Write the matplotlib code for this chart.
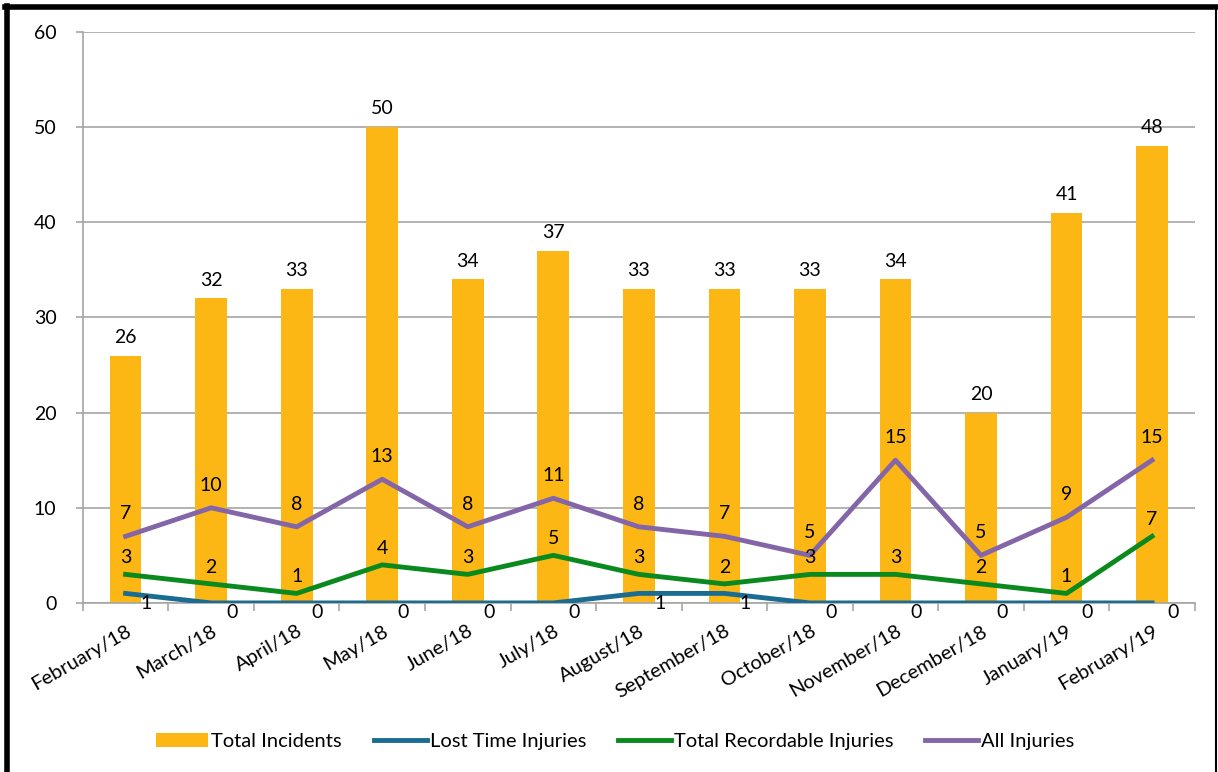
import numpy as np
import matplotlib
matplotlib.use('Agg')
import matplotlib.pyplot as plt
from matplotlib.lines import Line2D

plt.rcParams['font.family'] = ['Lato', 'DejaVu Sans']

months = ['February/18', 'March/18', 'April/18', 'May/18', 'June/18', 'July/18',
          'August/18', 'September/18', 'October/18', 'November/18', 'December/18',
          'January/19', 'February/19']
total_incidents = [26, 32, 33, 50, 34, 37, 33, 33, 33, 34, 20, 41, 48]
lost_time = [1, 0, 0, 0, 0, 0, 1, 1, 0, 0, 0, 0, 0]
total_recordable = [3, 2, 1, 4, 3, 5, 3, 2, 3, 3, 2, 1, 7]
all_injuries = [7, 10, 8, 13, 8, 11, 8, 7, 5, 15, 5, 9, 15]

c_bar = '#FDB714'
c_lost = '#1B6C93'
c_trir = '#0A8A1E'
c_all = '#8466A8'
c_grid = '#A6A6A6'

fig = plt.figure(figsize=(12.18, 7.72), dpi=100)
ax = fig.add_axes([0.068, 0.219, 0.913, 0.7395])

x = np.arange(len(months))
b = ax.bar(x, total_incidents, width=0.37, color=c_bar, label='Total Incidents', zorder=2)
l1, = ax.plot(x, lost_time, color=c_lost, lw=3.5, label='Lost Time Injuries', zorder=3)
l2, = ax.plot(x, total_recordable, color=c_trir, lw=3.5, label='Total Recordable Injuries', zorder=3)
l3, = ax.plot(x, all_injuries, color=c_all, lw=3.5, label='All Injuries', zorder=3)

fs = 14.5
fs_lab = 14
# data labels
for i in range(len(months)):
    ax.annotate(str(total_incidents[i]), (x[i], total_incidents[i]), xytext=(0, 7),
                textcoords='offset points', ha='center', va='bottom', fontsize=fs_lab)
    ax.annotate(str(all_injuries[i]), (x[i], all_injuries[i]), xytext=(0, 10),
                textcoords='offset points', ha='center', va='bottom', fontsize=fs_lab)
    ax.annotate(str(total_recordable[i]), (x[i], total_recordable[i]), xytext=(0, 6),
                textcoords='offset points', ha='center', va='bottom', fontsize=fs_lab)
    ax.annotate(str(lost_time[i]), (x[i], lost_time[i]), xytext=(15, -1),
                textcoords='offset points', ha='center', va='top', fontsize=fs_lab)

ax.set_xlim(-0.5, len(months) - 0.5)
ax.set_ylim(0, 60)
ax.set_yticks(range(0, 61, 10))
ax.yaxis.grid(True, color=c_grid, lw=1.2, zorder=0)
ax.set_axisbelow(True)

ax.set_xticks(x)
ax.set_xticklabels(months, rotation=30, ha='right', rotation_mode='anchor', fontsize=fs)
ax.set_xticks(np.arange(-0.5, len(months), 1), minor=True)
ax.tick_params(axis='x', which='major', length=0, pad=14)
ax.tick_params(axis='x', which='minor', length=6, color=c_grid, width=1.2)
ax.tick_params(axis='y', length=5, color=c_grid, width=1.2, labelsize=fs_lab, pad=14)

for s in ['top', 'right']:
    ax.spines[s].set_visible(False)
for s in ['left', 'bottom']:
    ax.spines[s].set_color(c_grid)
    ax.spines[s].set_linewidth(1.2)

fig.legend(handles=[b, l1, l2, l3], loc='center', bbox_to_anchor=(0.505, 0.04), ncol=4,
           frameon=False, fontsize=fs, handlelength=2.6, handletextpad=0.15,
           columnspacing=1.6)

# black frame around the chart
W, H = 1218, 772
fig.add_artist(Line2D([7 / W, 7 / W], [0, 1 - 6 / H], color='black', lw=4, transform=fig.transFigure))
fig.add_artist(Line2D([5 / W, 1216 / W], [1 - 7 / H, 1 - 7 / H], color='black', lw=4, transform=fig.transFigure))
fig.add_artist(Line2D([1216 / W, 1216 / W], [0, 1 - 7 / H], color='black', lw=1.5, transform=fig.transFigure))

fig.savefig('out.png', dpi=100)
